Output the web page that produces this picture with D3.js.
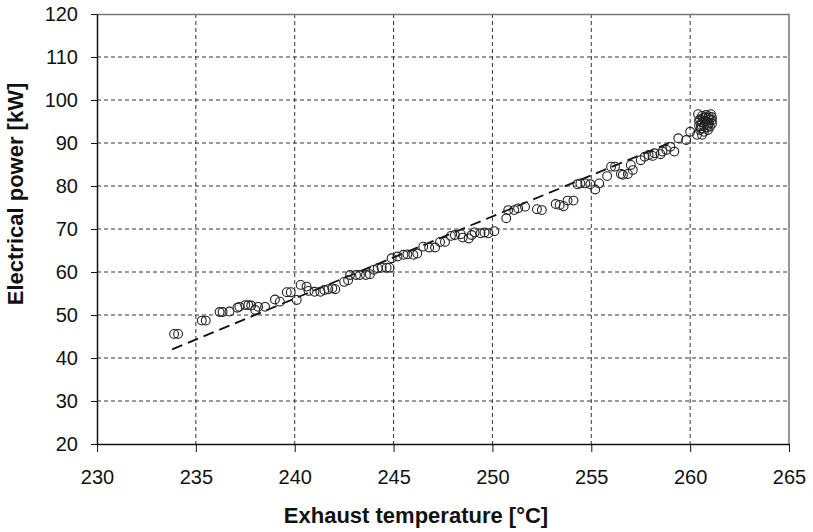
<!DOCTYPE html>
<html lang="en">
<head>
<meta charset="UTF-8">
<title>Electrical power vs exhaust temperature</title>
<style>
  body { margin: 0; background: #fff; }
  text { font-family: Arial, "Liberation Sans", sans-serif; fill: #111; }
</style>
</head>
<body>
<div id="chart"></div>
<script src="https://d3js.org/d3.v7.min.js"></script>
<script>
// measured points: exhaust temperature (°C) and electrical power (kW)
const tempC = [
  233.9, 234.1, 235.3, 235.5, 236.2, 236.35, 236.7, 237.1, 237.2, 237.5,
  237.65, 237.8, 238.0, 238.15, 238.5, 239.0, 239.25, 239.6, 239.8, 240.1,
  240.3, 240.6, 240.7, 241.0, 241.3, 241.5, 241.7, 241.9, 242.05, 242.5,
  242.7, 242.8, 243.1, 243.3, 243.6, 243.8, 244.0, 244.2, 244.4, 244.65,
  244.8, 244.9, 245.2, 245.5, 245.7, 246.0, 246.2, 246.5, 246.8, 247.1,
  247.35, 247.6, 247.9, 248.1, 248.4, 248.5, 248.8, 248.95, 249.1, 249.4,
  249.6, 249.8, 250.1, 250.7, 250.8, 251.1, 251.3, 251.65, 252.25, 252.5,
  253.2, 253.4, 253.6, 253.8, 254.1, 254.3, 254.45, 254.7, 254.95, 255.2,
  255.4, 255.8, 256.0, 256.2, 256.5, 256.6, 256.85, 257.0, 257.1, 257.5,
  257.7, 257.9, 258.1, 258.2, 258.5, 258.6, 258.8, 259.0, 259.2, 259.4,
  259.8, 260.0, 260.35, 260.6, 260.7, 260.9,
  260.4, 261.05, 260.5, 260.6, 260.7, 260.8, 260.9, 261.0, 261.1, 260.45,
  260.55, 260.75, 260.95, 261.1, 260.65, 260.85, 261.0, 260.5, 260.45, 260.6,
  260.8, 260.95, 261.1, 260.55, 260.75, 260.9
];
const powerKW = [
  45.6, 45.6, 48.7, 48.7, 50.7, 50.7, 50.8, 51.7, 51.9, 52.3,
  52.3, 52.2, 51.2, 51.9, 51.9, 53.6, 53.1, 55.3, 55.3, 53.5,
  57.0, 56.6, 55.6, 55.4, 55.4, 55.8, 56.0, 56.2, 56.0, 57.7,
  58.1, 59.3, 59.3, 59.3, 59.3, 59.5, 60.5, 60.9, 61.0, 61.0,
  61.0, 63.2, 63.6, 64.0, 64.1, 64.0, 64.3, 65.9, 65.7, 65.7,
  67.0, 67.0, 68.4, 68.6, 68.8, 68.0, 67.8, 68.6, 69.2, 69.0,
  69.2, 69.0, 69.5, 72.5, 74.4, 74.4, 74.8, 75.2, 74.6, 74.4,
  75.8, 75.6, 75.3, 76.6, 76.6, 80.4, 80.6, 80.6, 80.4, 79.2,
  80.6, 82.3, 84.5, 84.5, 82.8, 82.6, 82.8, 84.9, 83.7, 86.0,
  86.8, 87.2, 87.0, 87.6, 87.4, 88.0, 88.4, 89.1, 88.0, 91.1,
  90.7, 92.6, 91.9, 91.9, 92.6, 93.0,
  96.7, 96.7, 95.5, 94.8, 94.0, 95.0, 94.2, 95.5, 94.5, 94.0,
  93.4, 96.0, 96.2, 96.0, 95.8, 93.6, 93.8, 93.0, 95.2, 96.3,
  96.5, 94.6, 95.3, 94.2, 95.1, 95.8
];

// linear trend line (end points)
const trendT = [233.8, 259.15];
const trendP = [42.0, 90.4];

const xTicks = [230, 235, 240, 245, 250, 255, 260, 265];
const yTicks = [20, 30, 40, 50, 60, 70, 80, 90, 100, 110, 120];

const W = 813, H = 532;
const margin = { top: 14, right: 24, bottom: 88, left: 97 };
const width = W - margin.left - margin.right,
      height = H - margin.top - margin.bottom;

const svg = d3.select("#chart").append("svg")
  .attr("width", W).attr("height", H);
const g = svg.append("g")
  .attr("transform", `translate(${margin.left},${margin.top})`);

const x = d3.scaleLinear().domain([230, 265]).range([0, width]);
const y = d3.scaleLinear().domain([20, 120]).range([height, 0]);

// dashed grid
g.append("g").selectAll("line")
  .data(xTicks.slice(1, -1))
  .join("line")
  .attr("x1", d => x(d)).attr("x2", d => x(d))
  .attr("y1", 0).attr("y2", height)
  .attr("stroke", "#333").attr("stroke-width", 1)
  .attr("stroke-dasharray", "4,3");
g.append("g").selectAll("line")
  .data(yTicks.slice(1, -1))
  .join("line")
  .attr("y1", d => y(d)).attr("y2", d => y(d))
  .attr("x1", 0).attr("x2", width)
  .attr("stroke", "#333").attr("stroke-width", 1)
  .attr("stroke-dasharray", "4,3");

// frame top / right
g.append("path")
  .attr("d", `M0,0.5H${width}V${height}`)
  .attr("fill", "none").attr("stroke", "#777").attr("stroke-width", 1.5);

// axes
const xAxis = g.append("g")
  .attr("transform", `translate(0,${height})`)
  .call(d3.axisBottom(x).tickValues(xTicks).tickSize(8).tickPadding(18).tickSizeOuter(0));
const yAxis = g.append("g")
  .call(d3.axisLeft(y).tickValues(yTicks).tickSize(6).tickPadding(13).tickSizeOuter(0));
[xAxis, yAxis].forEach(a => {
  a.select(".domain").attr("stroke", "#111").attr("stroke-width", 1.5);
  a.selectAll(".tick line").attr("stroke", "#111").attr("stroke-width", 1);
  a.selectAll(".tick text").attr("font-size", 20).attr("fill", "#111")
    .attr("font-family", "Arial, 'Liberation Sans', sans-serif");
});

// trend line
g.append("line")
  .attr("x1", x(trendT[0])).attr("y1", y(trendP[0]))
  .attr("x2", x(trendT[1])).attr("y2", y(trendP[1]))
  .attr("stroke", "#111").attr("stroke-width", 1.8)
  .attr("stroke-dasharray", "11,6");

// points
g.append("g").selectAll("circle")
  .data(tempC.map((t, i) => [t, powerKW[i]]))
  .join("circle")
  .attr("cx", d => x(d[0]))
  .attr("cy", d => y(d[1]))
  .attr("r", 4.4)
  .attr("fill", "none")
  .attr("stroke", "#222")
  .attr("stroke-width", 1.1);

// axis titles
svg.append("text")
  .attr("x", 416).attr("y", 523)
  .attr("text-anchor", "middle")
  .attr("font-size", 22).attr("font-weight", "bold")
  .text("Exhaust temperature [°C]");
svg.append("text")
  .attr("transform", "translate(23,194) rotate(-90)")
  .attr("text-anchor", "middle")
  .attr("font-size", 22).attr("font-weight", "bold")
  .text("Electrical power [kW]");
</script>
</body>
</html>
